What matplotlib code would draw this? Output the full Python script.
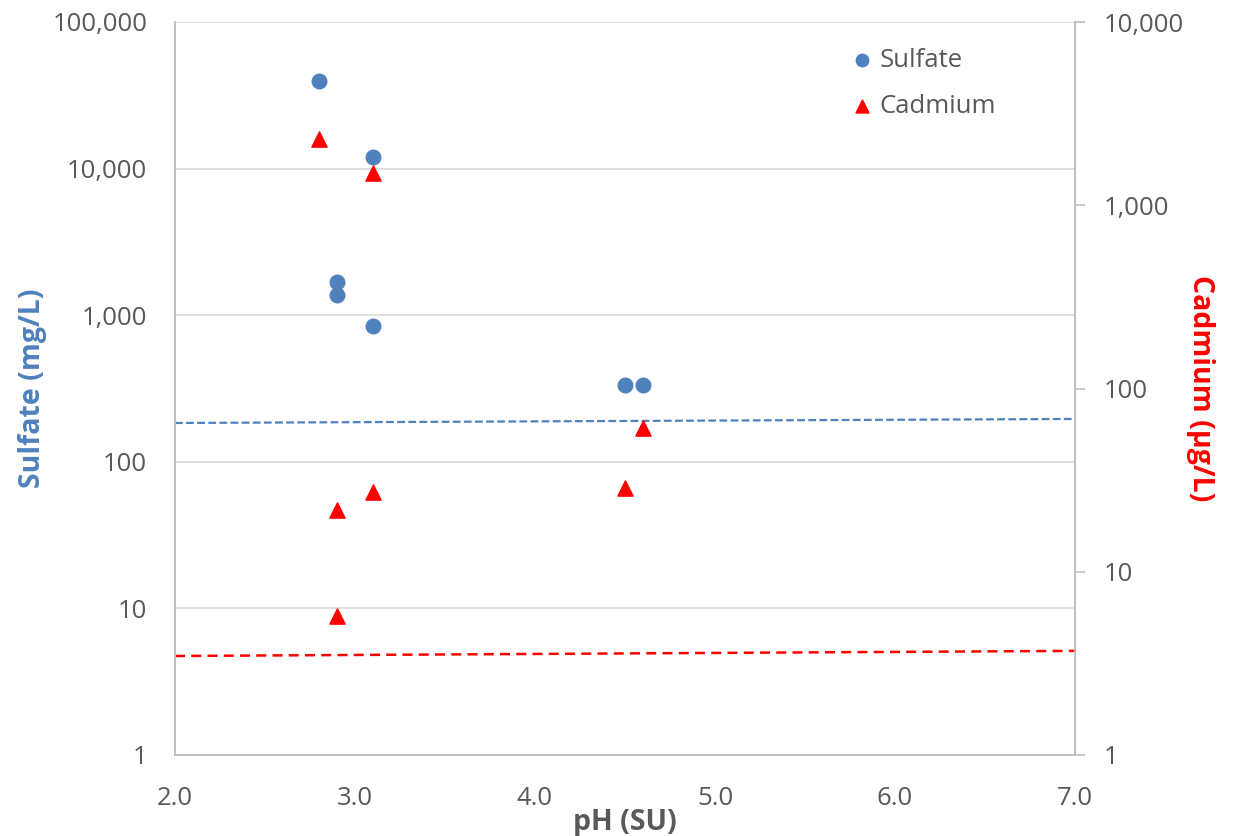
import matplotlib
matplotlib.use("Agg")
import matplotlib.pyplot as plt
from matplotlib.ticker import FuncFormatter, NullLocator, FixedLocator
import numpy as np

# sulfate (left axis, mg/L)
sulfate_ph = [2.8, 3.1, 2.9, 2.9, 3.1, 4.5, 4.6]
sulfate_val = [39600, 12000, 1690, 1370, 845, 334, 334]

# cadmium (right axis, ug/L)
cadmium_ph = [2.8, 3.1, 2.9, 3.1, 2.9, 4.5, 4.6]
cadmium_val = [2300, 1500, 21.8, 27.4, 5.75, 28.8, 61.2]

# dashed reference lines (endpoints)
sulfate_line_ph = [2.0, 7.0]
sulfate_line_val = [184, 196]
cadmium_line_ph = [2.0, 7.0]
cadmium_line_val = [3.47, 3.7]

left_ticks = [1, 10, 100, 1000, 10000, 100000]
right_ticks = [1, 10, 100, 1000, 10000]
x_ticks = [2.0, 3.0, 4.0, 5.0, 6.0, 7.0]

blue = "#4F81BD"
red = "#FF0000"
gray = "#595959"
grid = "#D9D9D9"
spine = "#BFBFBF"

plt.rcParams['font.family'] = ['Open Sans', 'DejaVu Sans']

fig = plt.figure(figsize=(12.33, 8.36), dpi=100)
ax = fig.add_axes([175/1233, 1 - 755/836, 900/1233, 733/836])
ax2 = ax.twinx()

fmt = FuncFormatter(lambda v, p: f"{int(round(v)):,}")

ax.set_yscale("log")
ax.set_ylim(1, 100000)
ax.yaxis.set_major_locator(FixedLocator(left_ticks))
ax.yaxis.set_minor_locator(NullLocator())
ax.yaxis.set_major_formatter(fmt)
ax.set_xlim(2, 7)
ax.set_xticks(x_ticks)
ax.set_xticklabels([f"{t:.1f}" for t in x_ticks])
ax.grid(axis="y", color=grid, linewidth=1.2)
ax.set_axisbelow(True)

ax2.set_yscale("log")
ax2.set_ylim(1, 10000)
ax2.yaxis.set_major_locator(FixedLocator(right_ticks))
ax2.yaxis.set_minor_locator(NullLocator())
ax2.yaxis.set_major_formatter(fmt)

for a in (ax, ax2):
    a.spines["top"].set_visible(False)
    for s in ("left", "right", "bottom"):
        a.spines[s].set_color(spine)
        a.spines[s].set_linewidth(1.2)

ax.tick_params(axis="y", length=0, labelsize=18.5, labelcolor=gray, pad=20)
ax.tick_params(axis="x", length=0, labelsize=18.5, labelcolor=gray, pad=22)
ax2.tick_params(axis="y", length=7, width=1.2, color=spine, direction="out",
                labelsize=18.5, labelcolor=gray, pad=14)

ax.plot(sulfate_line_ph, sulfate_line_val, color=blue, linestyle=(0, (3.5, 1.5)),
        linewidth=1.6, zorder=2)
ax2.plot(cadmium_line_ph, cadmium_line_val, color=red, linestyle=(0, (4, 2.5)),
         linewidth=1.8, zorder=2)

h1 = ax.scatter(sulfate_ph, sulfate_val, s=110, color=blue, marker="o",
                label="Sulfate", zorder=3, clip_on=False)
h2 = ax2.scatter(cadmium_ph, cadmium_val, s=120, color=red, marker="^",
                 label="Cadmium", zorder=3, clip_on=False)

ax.set_xlabel("pH (SU)", fontsize=20.5, fontweight="bold", color=gray, labelpad=-2)
ax.set_ylabel("Sulfate (mg/L)", fontsize=20.5, fontweight="bold", color=blue, labelpad=4)
ax2.set_ylabel("Cadmium (\u00b5g/L)", fontsize=20.5, fontweight="bold", color=red,
               rotation=270, labelpad=22)

leg = fig.legend([h1, h2], ["Sulfate", "Cadmium"], loc="upper left",
                 bbox_to_anchor=(0.691, 0.943), frameon=False, fontsize=18.5,
                 labelcolor=gray, handlelength=0.8, handletextpad=0.26,
                 labelspacing=0.82, borderpad=0, borderaxespad=0,
                 markerscale=0.85)

fig.savefig("out.png", dpi=100)
